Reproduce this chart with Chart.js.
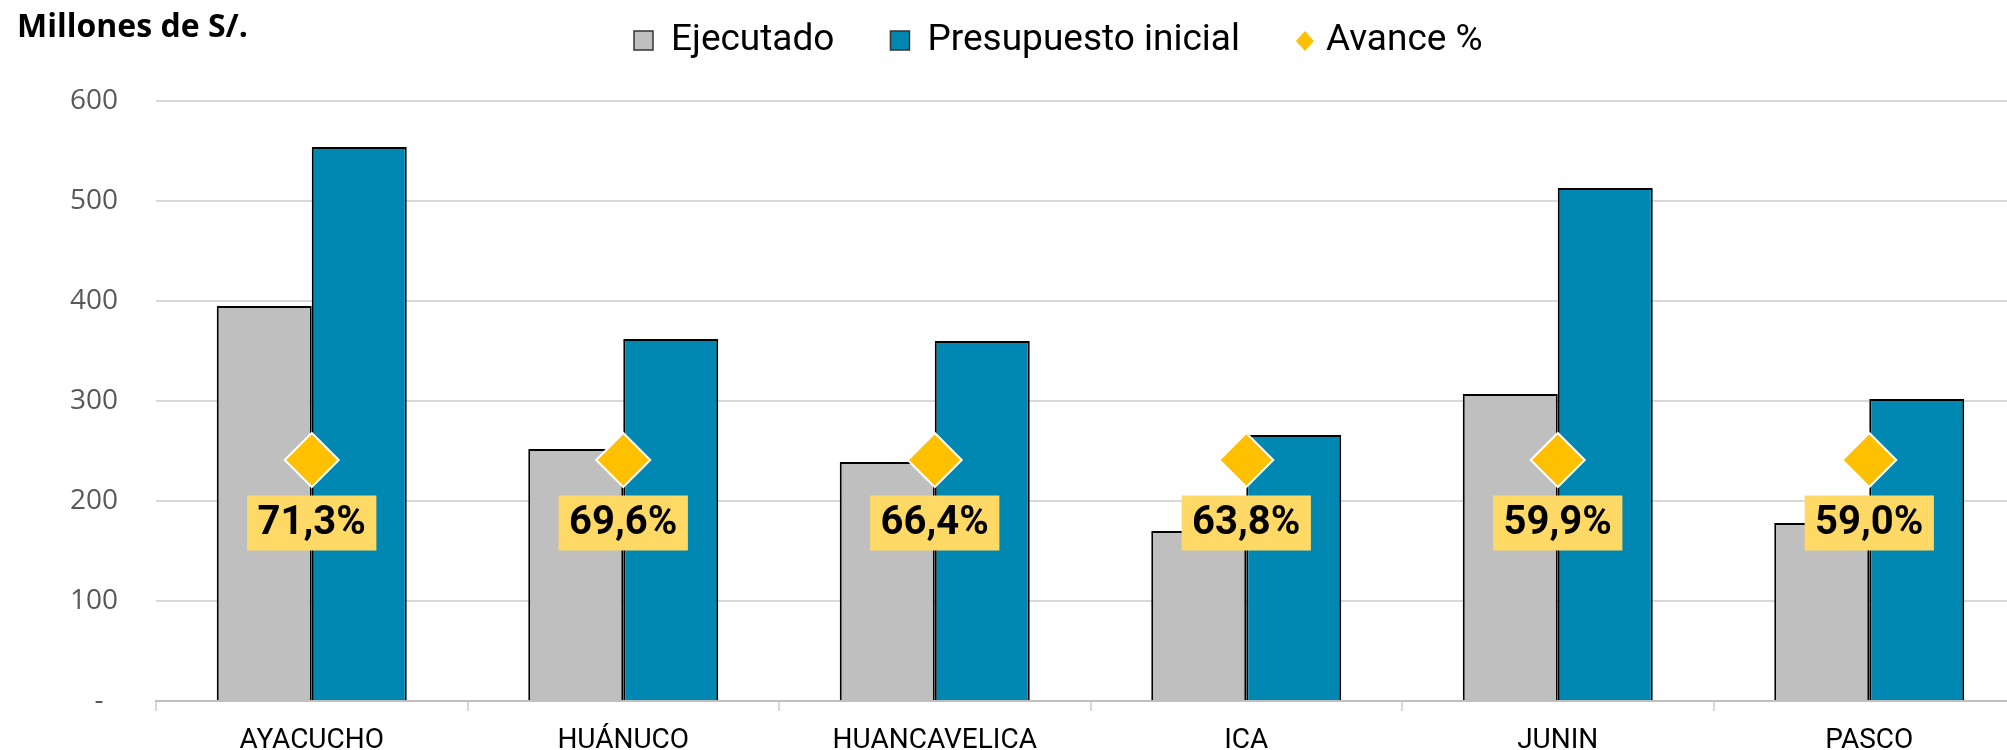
<!DOCTYPE html>
<html lang="es">
<head>
<meta charset="utf-8">
<title>Avance presupuestal por región</title>
<script src="https://cdn.jsdelivr.net/npm/chart.js@4.4.1/dist/chart.umd.min.js"></script>
<style>
  body { margin: 0; background: #fff; overflow: hidden; }
  #grafico { display: block; }
</style>
</head>
<body>
<!-- el lienzo es algo mas ancho que la ventana: la ultima region queda cortada como en el original -->
<canvas id="grafico" width="2040" height="750"></canvas>
<script>
// datos del grafico (millones de S/.)
const regiones = ['AYACUCHO', 'HUÁNUCO', 'HUANCAVELICA', 'ICA', 'JUNIN', 'PASCO'];
const ejecutado = [395, 252, 239, 170, 307, 178];
const presupuestoInicial = [554, 362, 360, 266, 513, 302];
const avance = [71.3, 69.6, 66.4, 63.8, 59.9, 59.0];
// el rombo de avance va a la misma altura en todas las regiones
const nivelAvance = [241, 241, 241, 241, 241, 241];
const ticksY = [0, 100, 200, 300, 400, 500, 600];

const colores = {
    ejecutado: '#BFBFBF',
    presupuesto: '#0088B2',
    avance: '#FFC000',
    etiqueta: '#FFD966'
};

// leyenda dibujada a mano (arriba, al centro)
const leyendaPlugin = {
    id: 'leyenda',
    afterDraw(chart) {
        const ctx = chart.ctx;
        const y = 41;
        let x = 634;
        ctx.save();
        ctx.font = '37px Roboto';
        ctx.textBaseline = 'middle';
        ctx.textAlign = 'left';
        chart.data.datasets.forEach(ds => {
            ctx.fillStyle = ds.backgroundColor;
            let sep = 37;
            if (ds.type === 'line') {
                ctx.beginPath();
                ctx.moveTo(x + 9, y - 10);
                ctx.lineTo(x + 18, y);
                ctx.lineTo(x + 9, y + 10);
                ctx.lineTo(x, y);
                ctx.closePath();
                ctx.fill();
                sep = 30;
            } else {
                ctx.fillRect(x, y - 10, 19, 19);
                ctx.strokeStyle = '#333';
                ctx.lineWidth = 1.5;
                ctx.strokeRect(x, y - 10, 19, 19);
            }
            ctx.fillStyle = '#000';
            ctx.fillText(ds.label, x + sep, y);
            x += sep + ctx.measureText(ds.label).width + 56;
        });
        ctx.restore();
    }
};

// etiquetas amarillas con el % de avance
const etiquetasPlugin = {
    id: 'etiquetas',
    afterDatasetsDraw(chart) {
        const ctx = chart.ctx;
        const meta = chart.getDatasetMeta(2);
        ctx.save();
        ctx.font = 'bold 40px Roboto';
        ctx.textAlign = 'center';
        ctx.textBaseline = 'middle';
        meta.data.forEach((pt, i) => {
            const texto = avance[i].toFixed(1).replace('.', ',') + '%';
            const w = ctx.measureText(texto).width + 21;
            const h = 55;
            const cx = pt.x;
            const cy = pt.y + 63;
            ctx.fillStyle = colores.etiqueta;
            ctx.fillRect(cx - w / 2, cy - h / 2, w, h);
            ctx.fillStyle = '#000';
            ctx.fillText(texto, cx, cy + 1);
        });
        ctx.restore();
    }
};

const ctx = document.getElementById('grafico').getContext('2d');
new Chart(ctx, {
    type: 'bar',
    data: {
        labels: regiones,
        datasets: [{
            label: 'Ejecutado',
            data: ejecutado,
            backgroundColor: colores.ejecutado,
            borderColor: '#000',
            borderWidth: 2,
            order: 2
        }, {
            label: 'Presupuesto inicial',
            data: presupuestoInicial,
            backgroundColor: colores.presupuesto,
            borderColor: '#000',
            borderWidth: 2,
            order: 2
        }, {
            type: 'line',
            label: 'Avance %',
            data: nivelAvance,
            showLine: false,
            pointStyle: 'rectRot',
            pointRadius: 27,
            pointHoverRadius: 27,
            backgroundColor: colores.avance,
            borderColor: '#fff',
            borderWidth: 2,
            order: 0
        }]
    },
    options: {
        responsive: false,
        animation: false,
        datasets: {
            bar: { categoryPercentage: 0.61, barPercentage: 1.0 }
        },
        layout: {
            autoPadding: false,
            padding: { left: 17, right: 15, top: 0, bottom: 0 }
        },
        plugins: {
            legend: { display: false },
            tooltip: { enabled: false },
            title: {
                display: true,
                text: 'Millones de S/.',
                align: 'start',
                color: '#000',
                font: { family: 'Open Sans', size: 32, weight: 'bold' },
                padding: { top: 9, bottom: 53.6 }
            }
        },
        scales: {
            x: {
                afterFit: scale => {
                    scale.height = 49;
                    scale.paddingLeft = 0;
                    scale.paddingRight = 0;
                },
                grid: {
                    display: true,
                    drawOnChartArea: false,
                    drawTicks: true,
                    tickLength: 10,
                    color: '#D9D9D9',
                    lineWidth: 2
                },
                border: { display: true, color: '#BFBFBF', width: 2 },
                ticks: {
                    color: '#000',
                    padding: 13,
                    font: { family: 'Roboto', size: 28, lineHeight: 1.2 }
                }
            },
            y: {
                min: 0,
                max: 600,
                afterBuildTicks: scale => {
                    scale.ticks = ticksY.map(v => ({ value: v }));
                },
                afterFit: scale => {
                    scale.width = 139;
                    scale.paddingTop = 0;
                    scale.paddingBottom = 0;
                },
                grid: {
                    color: '#D9D9D9',
                    lineWidth: 2,
                    drawTicks: false
                },
                border: { display: false },
                ticks: {
                    color: '#595959',
                    padding: 38,
                    font: { family: 'Open Sans', size: 28 },
                    callback: value => value === 0 ? '-  ' : value
                }
            }
        }
    },
    plugins: [leyendaPlugin, etiquetasPlugin]
});
</script>
</body>
</html>
